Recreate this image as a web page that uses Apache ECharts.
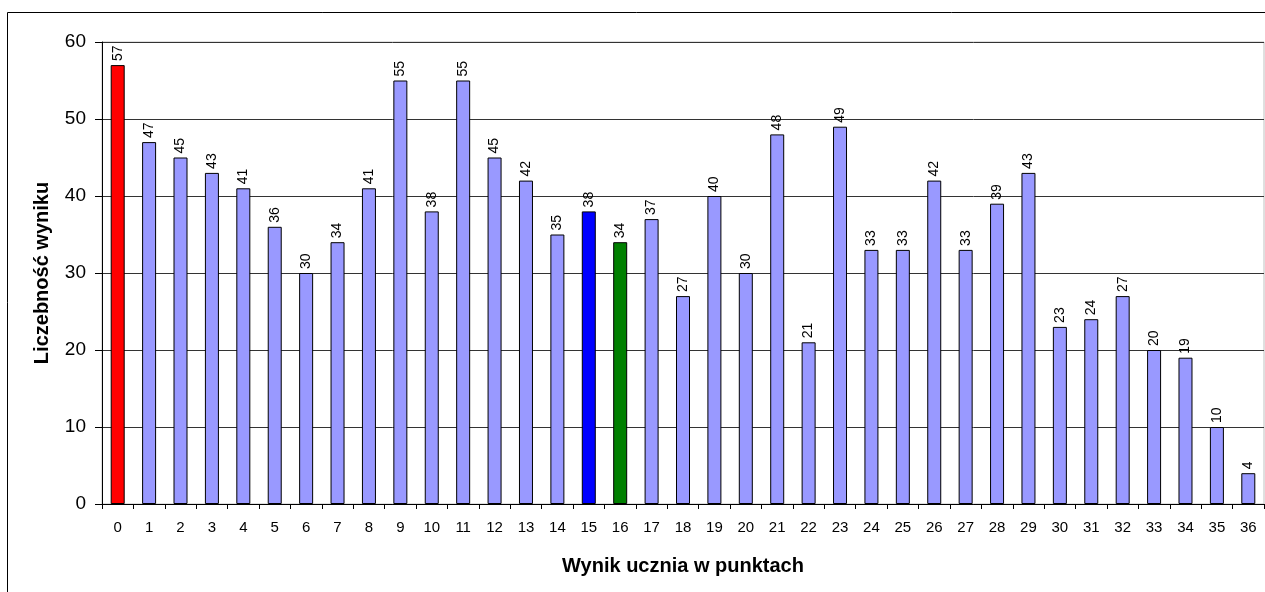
<!DOCTYPE html>
<html><head><meta charset="utf-8">
<script src="https://cdn.jsdelivr.net/npm/echarts@6/dist/echarts.min.js"></script>
<style>html,body{margin:0;padding:0;background:#fff}#c{width:1265px;height:592px}</style>
</head><body><div id="c"></div>
<script>
var categories = ['0','1','2','3','4','5','6','7','8','9','10','11','12','13','14','15','16','17','18','19','20','21','22','23','24','25','26','27','28','29','30','31','32','33','34','35','36'];
var counts = [57,47,45,43,41,36,30,34,41,55,38,55,45,42,35,38,34,37,27,40,30,48,21,49,33,33,42,33,39,43,23,24,27,20,19,10,4];
var specialColors = {0:'#FF0000', 15:'#0000FF', 16:'#008000'};
var baseColor = '#9999FF';
var yTicks = [0,10,20,30,40,50,60];

var chart = echarts.init(document.getElementById('c'));
var data = counts.map(function(v,i){
  return {value:v, itemStyle:{color: specialColors[i] || baseColor}};
});
var ff = 'Liberation Sans, Arial, sans-serif';
chart.setOption({
  animation:false,
  graphic:[{type:'rect', shape:{x:7.5,y:12.5,width:1400,height:700}, style:{fill:'none',stroke:'#000',lineWidth:1}, z:-1}],
  grid:{left:102, right:1, top:42, bottom:88, show:true, borderColor:'#c0c0c0', borderWidth:1},
  xAxis:{type:'category', data:categories,
    name:'Wynik ucznia w punktach', nameLocation:'middle', nameGap:52,
    nameTextStyle:{fontFamily:ff, fontWeight:'bold', fontSize:20, color:'#000'},
    axisLine:{lineStyle:{color:'#000'}}, axisTick:{show:true, length:5, lineStyle:{color:'#000'}},
    axisLabel:{fontFamily:ff, fontSize:15, color:'#000', margin:16, interval:0}},
  yAxis:{type:'value', min:yTicks[0], max:yTicks[yTicks.length-1], interval:10,
    name:'Liczebność wyniku', nameLocation:'middle', nameGap:50,
    nameTextStyle:{fontFamily:ff, fontWeight:'bold', fontSize:20, color:'#000'},
    axisLine:{show:true, lineStyle:{color:'#000'}}, axisTick:{show:true, length:7, lineStyle:{color:'#000'}},
    axisLabel:{fontFamily:ff, fontSize:19, color:'#000', margin:16},
    splitLine:{lineStyle:{color:'#333', width:1}}},
  series:[{type:'bar', data:data, barWidth:14,
    itemStyle:{borderColor:'#000', borderWidth:1},
    label:{show:true, position:'top', rotate:90, align:'left', verticalAlign:'middle', distance:4,
      fontFamily:ff, fontSize:14, color:'#000'}}]
});
</script></body></html>
